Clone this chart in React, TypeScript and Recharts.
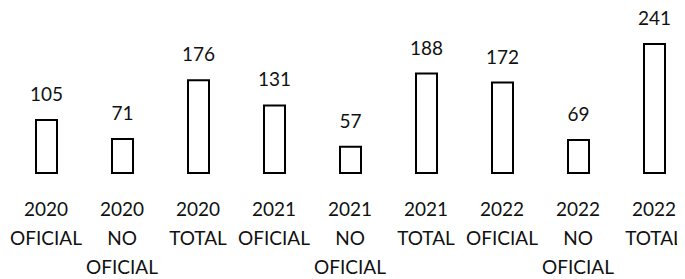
import { BarChart, Bar, XAxis, YAxis, LabelList } from "recharts";

const categories = [
  "2020 OFICIAL",
  "2020 NO OFICIAL",
  "2020 TOTAL",
  "2021 OFICIAL",
  "2021 NO OFICIAL",
  "2021 TOTAL",
  "2022 OFICIAL",
  "2022 NO OFICIAL",
  "2022 TOTAL",
];
const values = [105, 71, 176, 131, 57, 188, 172, 69, 241];

const data = categories.map((name, i) => ({ name, value: values[i] }));

const FONT = "Lato, 'Open Sans', sans-serif";

// category names wrap one word per line, like the original axis
function CategoryTick({ x, y, payload }: any) {
  const lines = String(payload.value).split(" ");
  return (
    <text x={x} y={y} textAnchor="middle" fontFamily={FONT} fontSize={19} fill="#111">
      {lines.map((line, i) => (
        <tspan key={i} x={x} dy={i === 0 ? 35 : 29}>
          {line}
        </tspan>
      ))}
    </text>
  );
}

export default function App() {
  // pulled up over the body margin so the top label has room inside the svg
  return (
    <div style={{ width: 684, height: 279, marginTop: -8 }}>
      <style>{"html, body { overflow: hidden; }"}</style>
      <BarChart
        width={684}
        height={279}
        data={data}
        margin={{ top: 39, right: 0, left: 0, bottom: 6 }}
      >
        <XAxis
          dataKey="name"
          axisLine={false}
          tickLine={false}
          interval={0}
          height={100}
          tick={<CategoryTick />}
        />
        <YAxis hide domain={[10, 250]} />
        <Bar
          dataKey="value"
          fill="#fff"
          stroke="#000"
          strokeWidth={2}
          barSize={21}
          isAnimationActive={false}
        >
          <LabelList
            dataKey="value"
            position="top"
            offset={19}
            fontFamily={FONT}
            fontSize={19}
            fill="#111"
          />
        </Bar>
      </BarChart>
    </div>
  );
}
